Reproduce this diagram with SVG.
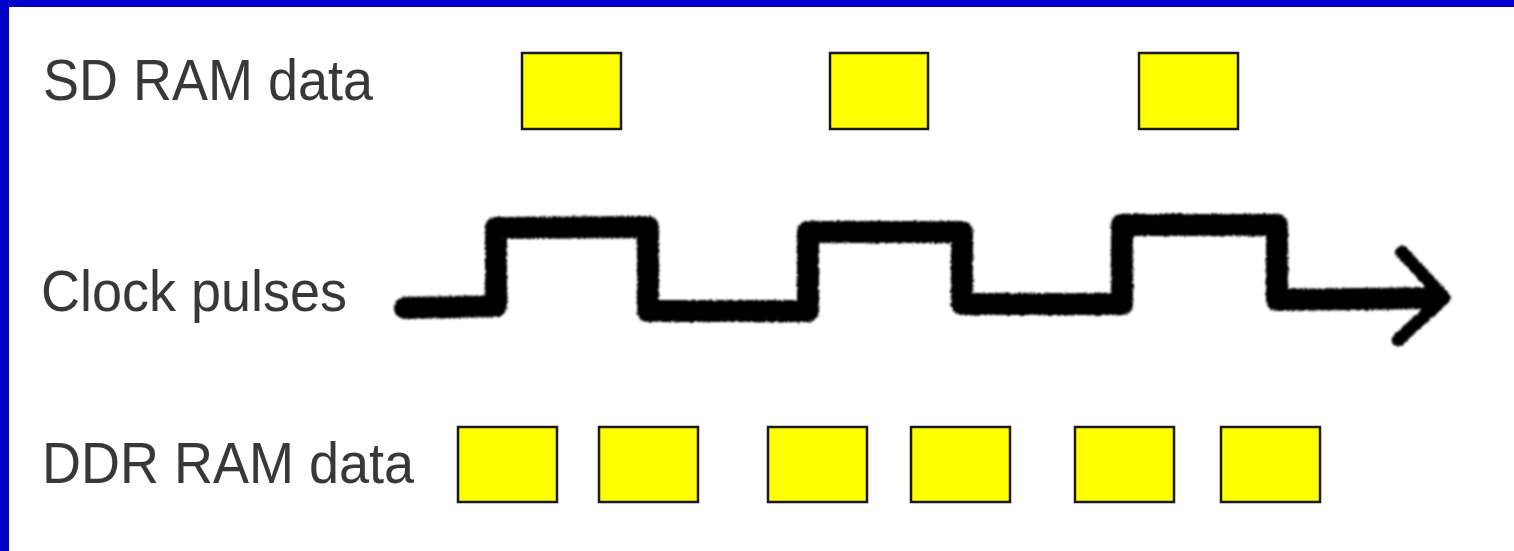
<svg xmlns="http://www.w3.org/2000/svg" width="1514" height="551" viewBox="0 0 1514 551">
<defs>
<style>
.lbl{font-family:"Liberation Sans",Arial,sans-serif;font-size:54px;fill:#383838}
.box{fill:#ffff00;stroke:#1a1a1a;stroke-width:2.5}
.wave{fill:none;stroke:#000;stroke-width:22;stroke-linejoin:round;stroke-linecap:round}
.head{fill:none;stroke:#000;stroke-width:13;stroke-linejoin:round;stroke-linecap:round}
</style>
<filter id="rough" x="-5%" y="-20%" width="110%" height="140%">
<feTurbulence type="fractalNoise" baseFrequency="0.6" numOctaves="2" seed="3" result="n"/>
<feDisplacementMap in="SourceGraphic" in2="n" scale="4" xChannelSelector="R" yChannelSelector="G" result="d"/>
<feGaussianBlur in="d" stdDeviation="1.1"/>
</filter>
</defs>
<rect x="0" y="0" width="1514" height="551" fill="#ffffff"/>
<rect x="0" y="0" width="1514" height="7" fill="#0000cc"/>
<rect x="0" y="0" width="9" height="551" fill="#0000cc"/>

<g id="label-sd"><text class="lbl" x="43" y="100" transform="translate(0,100) scale(1,1.06) translate(0,-100)">SD RAM data</text></g>
<g id="label-clock"><text class="lbl" x="41" y="311" transform="translate(0,311) scale(1,1.06) translate(0,-311)">Clock pulses</text></g>
<g id="label-ddr"><text class="lbl" x="42" y="483" transform="translate(0,483) scale(1,1.06) translate(0,-483)">DDR RAM data</text></g>

<g id="sd-1"><rect class="box" x="522" y="53" width="99" height="76"/></g>
<g id="sd-2"><rect class="box" x="830" y="53" width="98" height="76"/></g>
<g id="sd-3"><rect class="box" x="1139" y="53" width="99" height="76"/></g>

<g id="ddr-1"><rect class="box" x="458" y="427" width="99" height="75"/></g>
<g id="ddr-2"><rect class="box" x="599" y="427" width="99" height="75"/></g>
<g id="ddr-3"><rect class="box" x="768" y="427" width="99" height="75"/></g>
<g id="ddr-4"><rect class="box" x="911" y="427" width="99" height="75"/></g>
<g id="ddr-5"><rect class="box" x="1075" y="427" width="99" height="75"/></g>
<g id="ddr-6"><rect class="box" x="1221" y="427" width="99" height="75"/></g>

<g id="clock" filter="url(#rough)">
<path class="wave" d="M405 308 L496 306 L496 228 L648 227 L648 311 L808 311 L808 232 L962 232 L962 304 L1122 304 L1122 225 L1277 225 L1277 300 L1436 298"/>
<path class="head" d="M1402 252 L1444 298 L1398 340"/>
</g>
</svg>
